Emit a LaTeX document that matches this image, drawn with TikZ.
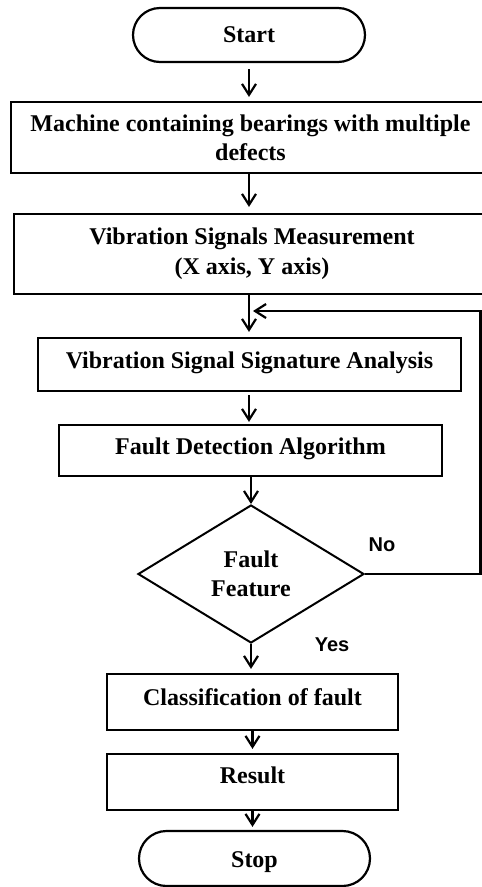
\documentclass[tikz,border=0pt]{standalone}
\usepackage{fontspec}
\setmainfont{Liberation Serif}
\newfontfamily\yesnofont{Liberation Sans}
\usetikzlibrary{arrows.meta,shapes.geometric,shapes.misc}
\begin{document}
\begin{tikzpicture}[x=1pt,y=-1pt,
  every node/.style={font=\bfseries\fontsize{24}{29}\selectfont, line width=2.2pt},
  box/.style={draw, rectangle, inner sep=0pt, align=center},
  term/.style={draw, rounded rectangle, inner sep=0pt},
  dec/.style={draw, diamond, inner sep=0pt, align=center, line width=2pt},
  lbl/.style={font=\yesnofont\bfseries\fontsize{20}{24}\selectfont},
  flow/.style={line width=2.2pt, -{Straight Barb[length=11pt,width=14pt]}}]
\useasboundingbox (0,0) rectangle (482,887);
\clip (0,0) rectangle (482,887);

\node[term, minimum width=232pt, minimum height=54pt] (start) at (249,35) {Start};
\node[box, minimum width=479pt, minimum height=71pt] (machine) at (250.5,137.5)
  {Machine containing bearings with multiple\\defects};
\node[box, minimum width=476pt, minimum height=80pt,
  font=\bfseries\fontsize{24}{30}\selectfont] (meas) at (252,254)
  {Vibration Signals Measurement\\(X axis, Y axis)};
\node[box, minimum width=423pt, minimum height=53pt, text height=16pt, text depth=9pt]
  (sig) at (249.5,364.5) {Vibration Signal Signature Analysis};
\node[box, minimum width=383pt, minimum height=51pt, text height=16pt, text depth=9pt]
  (fd) at (250.5,450.5) {Fault Detection Algorithm};
\node[dec, minimum width=226pt, minimum height=138pt] (dia) at (251,574) {Fault\\Feature};
\node[box, minimum width=291pt, minimum height=56pt, text height=16pt, text depth=10pt]
  (cls) at (252.5,702) {Classification of fault};
\node[box, minimum width=291pt, minimum height=56pt, text height=16pt, text depth=14pt]
  (res) at (252.5,782) {Result};
\node[term, minimum width=231pt, minimum height=55pt, text height=18pt, text depth=0pt]
  (stop) at (254.5,858.5) {Stop};

\node[lbl] (no) at (382,545) {No};
\node[lbl] (yes) at (332,645) {Yes};

\coordinate (fb) at (480.5,311);

\draw[flow, shorten <=6pt, shorten >=4pt] (start.south) -- (start.south |- machine.north);
\draw[flow, shorten >=6pt] (machine.south -| start.south) -- (meas.north -| start.south);
\draw[flow, shorten >=5pt] (meas.south -| start.south) -- (sig.north -| start.south);
\draw[flow, shorten <=3pt, shorten >=2pt] (sig.south -| start.south) -- (fd.north -| start.south);
\draw[flow] (fd.south -| dia.north) -- (dia.north);
\draw[flow, shorten >=4pt] (dia.south) -- (dia.south |- cls.north);
\draw[flow, shorten >=4pt] (cls.south) -- (cls.south |- res.north);
\draw[flow, shorten >=3pt] (res.south) -- (res.south |- stop.north);
\draw[flow, shorten >=4pt] (dia.east) -| (fb) -- (fb -| start.south);
\end{tikzpicture}
\end{document}
